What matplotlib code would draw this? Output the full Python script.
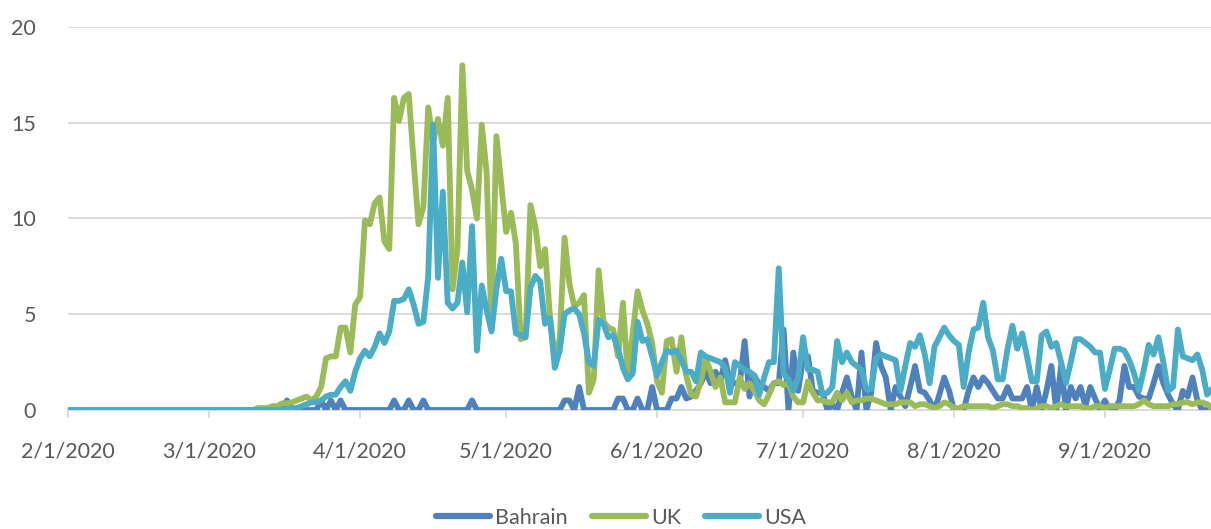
import matplotlib
matplotlib.use("Agg")
import matplotlib.pyplot as plt
import pandas as pd

start_date = "2020-02-01"
series_names = ["Bahrain", "UK", "USA"]
tick_dates = ["2020-02-01", "2020-03-01", "2020-04-01", "2020-05-01",
              "2020-06-01", "2020-07-01", "2020-08-01", "2020-09-01"]
tick_labels = ["2/1/2020", "3/1/2020", "4/1/2020", "5/1/2020",
               "6/1/2020", "7/1/2020", "8/1/2020", "9/1/2020"]
y_ticks = [0, 5, 10, 15, 20]

bahrain = [
    0, 0, 0, 0, 0, 0, 0, 0, 0, 0,
    0, 0, 0, 0, 0, 0, 0, 0, 0, 0,
    0, 0, 0, 0, 0, 0, 0, 0, 0, 0,
    0, 0, 0, 0, 0, 0, 0, 0, 0, 0,
    0, 0, 0, 0, 0, 0.5, 0, 0, 0, 0,
    0, 0, 0.5, 0, 0.5, 0, 0.5, 0, 0, 0,
    0, 0, 0, 0, 0, 0, 0, 0.5, 0, 0,
    0.5, 0, 0, 0.5, 0, 0, 0, 0, 0, 0,
    0, 0, 0, 0.5, 0, 0, 0, 0, 0, 0,
    0, 0, 0, 0, 0, 0, 0, 0, 0, 0,
    0, 0, 0.5, 0.5, 0, 1.2, 0, 0, 0, 0,
    0, 0, 0, 0.6, 0.6, 0, 0, 0.6, 0, 0,
    1.2, 0, 0, 0, 0.6, 0.6, 1.2, 0.6, 0.7, 1.0,
    1.4, 2.0, 1.4, 2.0, 1.5, 2.6, 1.4, 1.4, 1.4, 3.6,
    0.7, 1.8, 1.3, 1.2, 1.0, 1.4, 1.4, 4.2, 0, 3.0,
    1.0, 2.7, 2.8, 1.0, 0.9, 0.9, 0, 0.3, 0, 0.9,
    1.7, 0.7, 0, 3.0, 0, 0.9, 3.5, 2.3, 1.7, 0,
    1.2, 0.7, 0.2, 1.2, 2.3, 1.0, 0.9, 0.5, 0, 0.8,
    1.7, 1.0, 0, 0, 0, 1.0, 1.7, 1.2, 1.7, 1.4,
    1.0, 0.6, 0.6, 1.2, 0.6, 0.6, 0.6, 1.2, 0, 1.2,
    0, 1.0, 2.3, 0, 2.3, 0, 1.2, 0.6, 1.2, 0.2,
    1.2, 0.6, 0, 0.5, 0, 0, 0.5, 2.3, 1.2, 1.2,
    0.7, 0.6, 0.6, 1.4, 2.3, 1.4, 0.8, 0.3, 0, 1.0,
    0.7, 1.7, 0.5, 0, 0, 0,
]

uk = [
    0, 0, 0, 0, 0, 0, 0, 0, 0, 0,
    0, 0, 0, 0, 0, 0, 0, 0, 0, 0,
    0, 0, 0, 0, 0, 0, 0, 0, 0, 0,
    0, 0, 0, 0, 0, 0, 0, 0, 0, 0.1,
    0.1, 0.1, 0.2, 0.2, 0.35, 0.35, 0.4, 0.5, 0.6, 0.7,
    0.5, 0.7, 1.2, 2.7, 2.8, 2.8, 4.3, 4.3, 3.0, 5.5,
    5.9, 9.9, 9.7, 10.8, 11.1, 8.8, 8.4, 16.3, 15.1, 16.3,
    16.5, 13.0, 9.7, 10.6, 15.8, 14.0, 15.2, 13.8, 16.3, 6.3,
    8.4, 18.0, 12.5, 11.5, 10.0, 14.9, 12.4, 4.2, 14.3, 11.8,
    9.3, 10.3, 8.7, 3.7, 3.8, 10.7, 9.6, 7.5, 8.4, 4.9,
    2.8, 3.7, 9.0, 6.6, 5.4, 5.6, 6.0, 0.9, 1.6, 7.3,
    4.6, 4.3, 4.2, 2.8, 5.6, 1.7, 4.0, 6.2, 5.2, 4.5,
    3.5, 1.5, 0.9, 3.6, 3.7, 2.0, 3.8, 1.8, 0.8, 0.7,
    1.5, 2.7, 2.0, 1.2, 1.7, 0.4, 0.4, 0.4, 1.7, 1.1,
    1.4, 1.0, 0.5, 0.3, 0.8, 1.4, 1.5, 1.3, 1.4, 0.7,
    0.4, 0.4, 1.5, 0.9, 0.5, 0.5, 0.4, 0.4, 0.9, 0.5,
    0.9, 0.4, 0.5, 0.5, 0.6, 0.6, 0.5, 0.4, 0.3, 0.3,
    0.3, 0.4, 0.4, 0.4, 0.2, 0.3, 0.3, 0.2, 0.1, 0.2,
    0.4, 0.3, 0.1, 0.1, 0.2, 0.2, 0.2, 0.2, 0.2, 0.2,
    0.1, 0.2, 0.3, 0.3, 0.2, 0.2, 0.1, 0.1, 0.0, 0.1,
    0.2, 0.2, 0.1, 0.2, 0.3, 0.2, 0.2, 0.2, 0.2, 0.1,
    0.1, 0.2, 0.2, 0.1, 0.2, 0.2, 0.2, 0.2, 0.2, 0.2,
    0.3, 0.5, 0.3, 0.2, 0.2, 0.2, 0.2, 0.3, 0.3, 0.4,
    0.4, 0.3, 0.4, 0.4, 0.3, 0.1,
]

usa = [
    0, 0, 0, 0, 0, 0, 0, 0, 0, 0,
    0, 0, 0, 0, 0, 0, 0, 0, 0, 0,
    0, 0, 0, 0, 0, 0, 0, 0, 0, 0,
    0, 0, 0, 0, 0, 0, 0, 0, 0, 0,
    0, 0, 0, 0, 0, 0.05, 0.1, 0.1, 0.2, 0.3,
    0.4, 0.4, 0.5, 0.7, 0.8, 0.8, 1.2, 1.5, 1.0, 2.0,
    2.7, 3.1, 2.8, 3.3, 4.0, 3.5, 4.1, 5.7, 5.7, 5.8,
    6.3, 5.5, 4.5, 4.6, 7.0, 14.9, 6.9, 11.4, 5.6, 5.3,
    5.6, 7.7, 5.1, 9.6, 3.1, 6.5, 5.2, 4.1, 6.3, 7.9,
    6.2, 6.2, 4.0, 3.9, 3.8, 6.4, 7.0, 6.7, 4.5, 4.8,
    2.2, 3.1, 5.0, 5.2, 5.3, 5.0, 4.0, 2.5, 2.3, 4.7,
    4.5, 3.8, 3.9, 3.2, 2.2, 1.6, 1.9, 4.6, 3.6, 3.7,
    2.8, 1.8, 2.5, 3.1, 3.0, 3.1, 2.6, 2.0, 2.0, 1.5,
    3.0, 2.8, 2.7, 2.6, 2.5, 2.2, 0.9, 2.5, 2.3, 2.1,
    2.0, 1.8, 0.8, 1.7, 2.5, 2.5, 7.4, 1.9, 1.6, 1.0,
    1.7, 3.8, 2.1, 2.1, 2.0, 0.8, 0.9, 1.2, 3.6, 2.5,
    3.0, 2.5, 2.3, 2.1, 1.1, 1.1, 2.7, 2.9, 2.8, 2.7,
    2.6, 1.0, 2.3, 3.5, 3.3, 3.9, 2.9, 1.4, 3.3, 3.8,
    4.3, 3.9, 3.6, 3.4, 1.2, 3.0, 4.2, 4.3, 5.6, 3.8,
    3.1, 1.6, 1.6, 3.2, 4.4, 3.2, 4.0, 2.8, 1.5, 1.5,
    3.9, 4.1, 3.3, 3.5, 2.5, 1.4, 2.5, 3.7, 3.7, 3.5,
    3.3, 3.0, 3.0, 1.1, 2.1, 3.2, 3.2, 3.1, 2.6, 1.9,
    1.0, 2.1, 3.4, 2.9, 3.8, 2.5, 1.0, 1.2, 4.2, 2.8,
    2.7, 2.6, 2.9, 2.1, 0.8, 1.1,
]

colors = ["#4F81BD", "#9BBB59", "#4BACC6"]
text_color = "#595959"
grid_color = "#D9D9D9"

plt.rcParams["font.family"] = ["Lato", "DejaVu Sans"]

W, H = 1211, 529
fig = plt.figure(figsize=(W / 100, H / 100), dpi=100)
left_px, right_px, top_px, bottom_px = 68, 1211, 27, 410
ax = fig.add_axes([left_px / W, (H - bottom_px) / H,
                   (right_px - left_px) / W, (bottom_px - top_px) / H])

t0 = pd.Timestamp(start_date)
for name, vals, c in zip(series_names, [bahrain, uk, usa], colors):
    dates = pd.date_range(t0, periods=len(vals), freq="D")
    ax.plot(dates, vals, color=c, lw=4.2, label=name,
            solid_joinstyle="round", solid_capstyle="round", zorder=3)

ax.set_ylim(0, 20)
ax.set_xlim(t0, t0 + pd.Timedelta(days=234.8))
ax.set_yticks(y_ticks)
ax.yaxis.grid(True, color=grid_color, lw=1.3)
ax.set_axisbelow(True)

ax.set_xticks(pd.to_datetime(tick_dates))
ax.set_xticklabels(tick_labels)

for s in ["top", "right", "left"]:
    ax.spines[s].set_visible(False)
ax.spines["bottom"].set_color(grid_color)
ax.spines["bottom"].set_linewidth(1.3)

ax.tick_params(axis="y", length=0, pad=23, labelsize=15.5, labelcolor=text_color)
ax.tick_params(axis="x", length=6, width=1.3, color=grid_color, pad=17,
               labelsize=15.5, labelcolor=text_color)

leg = fig.legend(loc="center", bbox_to_anchor=(621 / W, (H - 518) / H),
                 ncol=3, frameon=False, fontsize=15.5, handlelength=2.5,
                 handletextpad=0.25, columnspacing=1.1, labelcolor=text_color)
for line in leg.get_lines():
    line.set_linewidth(4.5)
    line.set_solid_capstyle("round")

fig.savefig("out.png", dpi=100)
